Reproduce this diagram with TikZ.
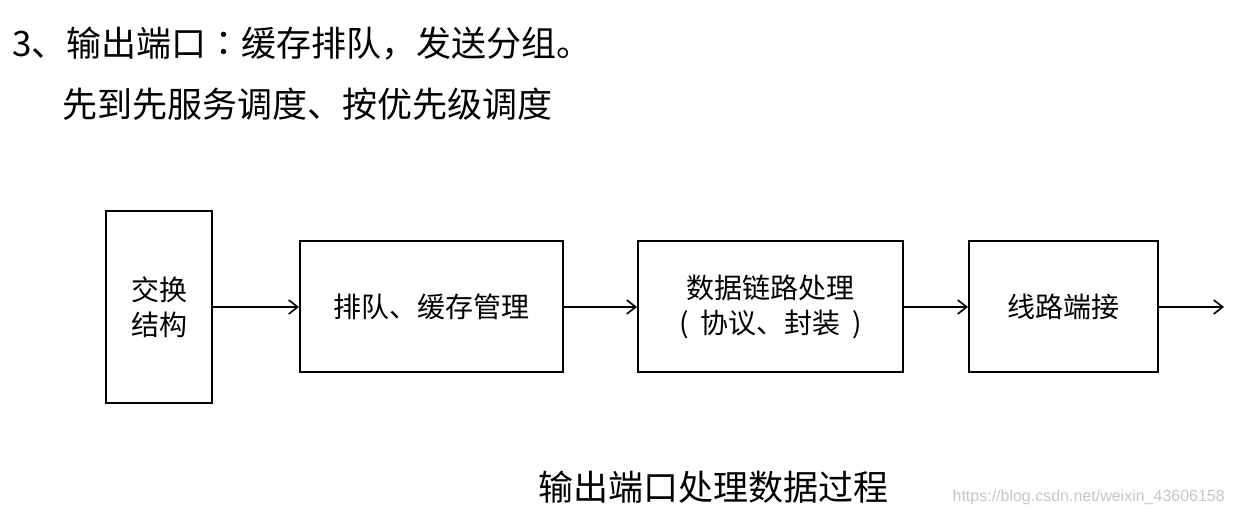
\documentclass[tikz,border=0pt]{standalone}
\usepackage{fontspec}
\setmainfont{Noto Sans CJK SC}
\newfontfamily\tcfont{Noto Sans CJK TC}
\newfontfamily\wmfont{Liberation Sans}
\usetikzlibrary{arrows.meta}
\tikzset{
  box/.style={draw=black, line width=2pt, inner sep=0pt, align=center, font=\fontsize{28}{35}\selectfont},
  conn/.style={draw=black, line width=2pt, -{Straight Barb[length=9pt,width=14pt,line width=1.6pt]}},
  txt/.style={inner sep=0pt, anchor=west}
}
\begin{document}
\begin{tikzpicture}[x=1pt,y=-1pt]
\useasboundingbox[fill=white] (0,0) rectangle (1234,518);
\node[txt, font=\fontsize{35}{40}\selectfont] (t1) at (12,44) {3、输出端口{\tcfont ：}缓存排队，发送分组。};
\node[txt, font=\fontsize{35}{40}\selectfont] (t2) at (62,104) {先到先服务调度、按优先级调度};
\node[box, minimum width=106pt, minimum height=192pt] (sw) at (159,307) {交换\\结构};
\node[box, minimum width=263pt, minimum height=131pt] (q) at (431.5,307) {排队、缓存管理};
\node[box, minimum width=265pt, minimum height=131pt] (dl) at (770.5,307) {数据链路处理\\(\hspace{12pt}协议、封装\hspace{12pt})};
\node[box, minimum width=189pt, minimum height=131pt] (lt) at (1063.5,307) {线路端接};
\coordinate (out) at (1224,307);
\draw[conn] (sw) -- (q);
\draw[conn] (q) -- (dl);
\draw[conn] (dl) -- (lt);
\draw[conn] (lt) -- (out);
\node[inner sep=0pt, font=\fontsize{35}{40}\selectfont] (cap) at (713,487) {输出端口处理数据过程};
\node[inner sep=0pt, anchor=east, text=black!22, font=\wmfont\fontsize{16}{18}\selectfont] (wm) at (1225,497) {https://blog.csdn.net/weixin\_43606158};
\end{tikzpicture}
\end{document}
